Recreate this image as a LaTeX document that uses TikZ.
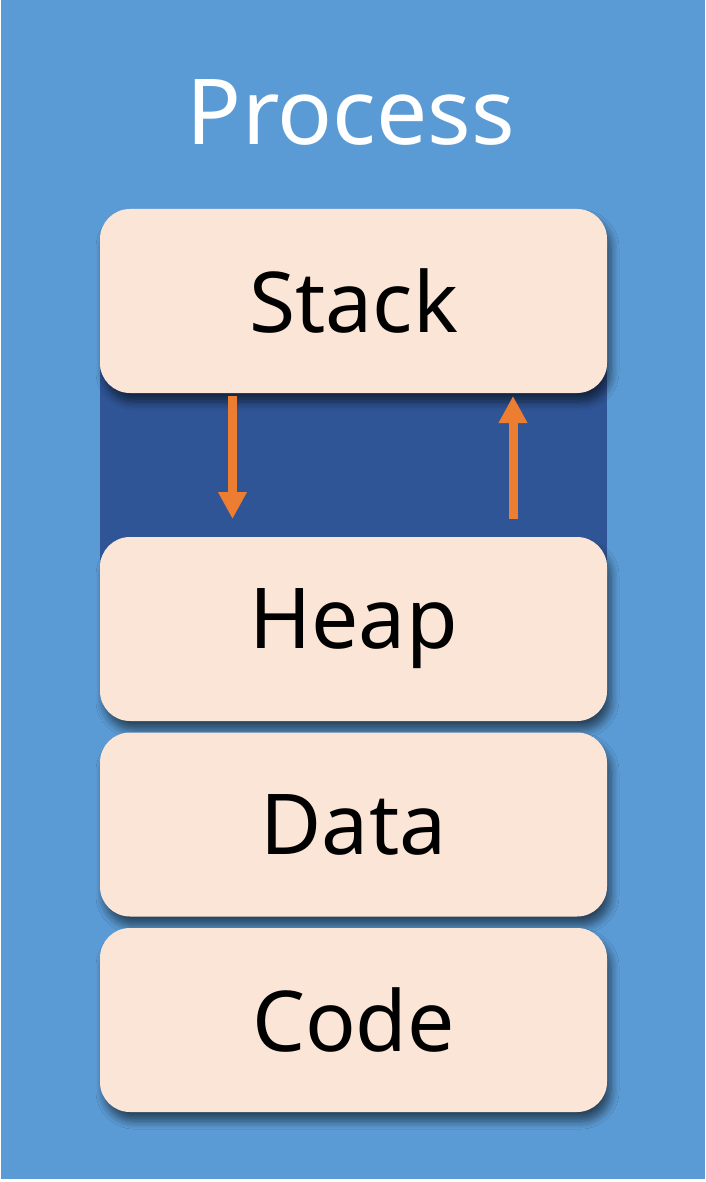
\documentclass[tikz,border=0pt]{standalone}
\usepackage{fontspec}
\setmainfont{Noto Sans}
\usetikzlibrary{shadows.blur,arrows.meta}
\definecolor{bgblue}{HTML}{5B9BD5}
\definecolor{darkblue}{HTML}{2F5597}
\definecolor{boxfill}{HTML}{FBE5D6}
\definecolor{arrowor}{HTML}{ED7D31}
\tikzset{
  seg/.style={draw=none, fill=boxfill, rounded corners=30pt, minimum width=507pt, minimum height=184pt,
    font=\fontsize{84}{84}\selectfont, text=black,
    blur shadow={shadow xshift=4pt, shadow yshift=-9pt, shadow blur steps=8, shadow blur radius=8pt, shadow opacity=55}},
  flow/.style={draw=arrowor, line width=9pt, -{Triangle[length=27pt,width=27pt]}}
}
\begin{document}
\begin{tikzpicture}[x=1pt,y=-1pt]
\useasboundingbox (0,0) rectangle (705,1182);
\fill[white] (0,0) rectangle (705,1182);
\fill[bgblue] (1,0) rectangle (705,1179);
\node[text=white, font=\fontsize{91}{91}\selectfont] (title) at (351,112) {Process};
\fill[darkblue] (100,370) rectangle (607,560);
\node[seg] (stack) at (353.5,301) {Stack};
\node[seg] (heap) at (353.5,629) {Heap};
\node[seg] (data) at (353.5,824.5) {Data};
\node[seg] (code) at (353.5,1020) {Code};
\coordinate (a1) at (232.5,396);
\coordinate (a2) at (232.5,519);
\coordinate (b1) at (513,519);
\coordinate (b2) at (513,396);
\draw[flow] (a1) -- (a2);
\draw[flow] (b1) -- (b2);
\end{tikzpicture}
\end{document}
